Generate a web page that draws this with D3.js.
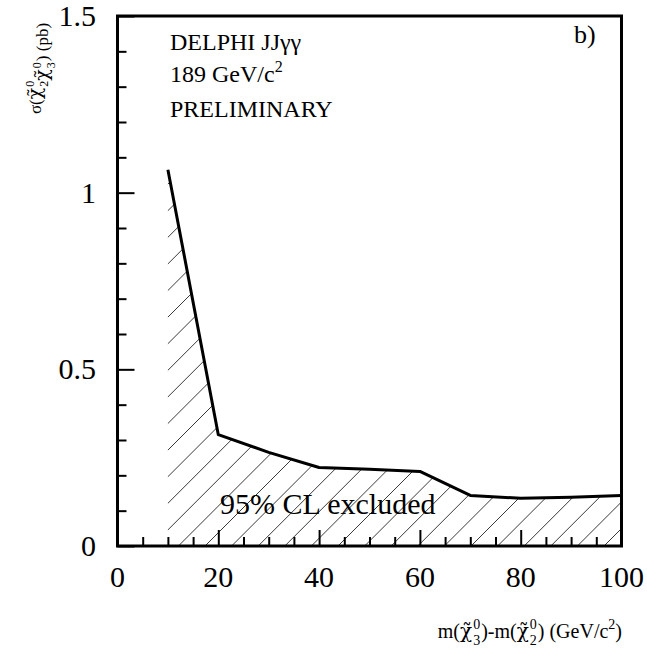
<!DOCTYPE html>
<html>
<head>
<meta charset="utf-8">
<script src="https://cdn.jsdelivr.net/npm/d3@7"></script>
<style>
  body { margin: 0; background: #fff; }
  svg { font-family: 'Liberation Serif', 'Times New Roman', serif; }
</style>
</head>
<body>
<svg id="chart" width="647" height="651"></svg>
<script>
// upper limit on cross-section vs mass difference
const massDiff = [10, 20, 30, 40, 50, 60, 70, 80, 90, 100];
const sigmaLimit = [1.065, 0.315, 0.265, 0.222, 0.217, 0.211, 0.143, 0.135, 0.138, 0.143];

const xMajorTicks = [0, 20, 40, 60, 80, 100];
const yMajorTicks = [0, 0.5, 1, 1.5];
const yTickLabels = ['0', '0.5', '1', '1.5'];

const box = { left: 117.5, right: 621.5, top: 16, bottom: 546 };

const svg = d3.select('#chart');

const xScale = d3.scaleLinear().domain([0, 100]).range([box.left, box.right]);
const yScale = d3.scaleLinear().domain([0, 1.5]).range([box.bottom, box.top]);

const pts = massDiff.map((m, i) => ({ m, s: sigmaLimit[i] }));

// excluded area, used as clip for the hatching
const area = d3.area()
  .x(d => xScale(d.m))
  .y0(yScale(0))
  .y1(d => yScale(d.s));

svg.append('clipPath')
  .attr('id', 'excl')
  .append('path')
  .datum(pts)
  .attr('d', area);

const hatch = svg.append('g').attr('clip-path', 'url(#excl)');
const step = 26.6;
const h = box.bottom - box.top;
const xStart = xScale(10) - h;
const phase = 205;
for (let x = phase - Math.ceil((phase - xStart) / step) * step; x < box.right; x += step) {
  hatch.append('line')
    .attr('x1', x).attr('y1', box.bottom)
    .attr('x2', x + h).attr('y2', box.bottom - h)
    .attr('stroke', '#222')
    .attr('stroke-width', 0.9);
}

// limit curve
svg.append('path')
  .datum(pts)
  .attr('d', d3.line().x(d => xScale(d.m)).y(d => yScale(d.s)))
  .attr('fill', 'none')
  .attr('stroke', '#000')
  .attr('stroke-width', 3)
  .attr('stroke-linejoin', 'round');

// ticks (inward)
const xAxis = d3.axisTop(xScale)
  .tickValues(d3.range(0, 101, 5))
  .tickSize(0)
  .tickFormat('');
const gX = svg.append('g')
  .attr('transform', `translate(0,${box.bottom})`)
  .call(xAxis);
gX.select('.domain').remove();
gX.selectAll('.tick line')
  .attr('y2', d => (d % 20 === 0 ? -16 : -9))
  .attr('stroke', '#000')
  .attr('stroke-width', 2);

const yAxis = d3.axisRight(yScale)
  .tickValues(d3.range(0, 16).map(i => i / 10))
  .tickSize(0)
  .tickFormat('');
const gY = svg.append('g')
  .attr('transform', `translate(${box.left},0)`)
  .call(yAxis);
gY.select('.domain').remove();
gY.selectAll('.tick line')
  .attr('x2', d => (Math.round(d * 10) % 5 === 0 ? 17 : 9))
  .attr('stroke', '#000')
  .attr('stroke-width', 2);

// frame
svg.append('rect')
  .attr('x', box.left)
  .attr('y', box.top)
  .attr('width', box.right - box.left)
  .attr('height', box.bottom - box.top)
  .attr('fill', 'none')
  .attr('stroke', '#000')
  .attr('stroke-width', 3);

// tick labels
svg.append('g')
  .selectAll('text')
  .data(xMajorTicks)
  .join('text')
  .attr('x', d => xScale(d))
  .attr('y', 586.5)
  .attr('text-anchor', 'middle')
  .attr('font-size', 30)
  .text(d => d);

svg.append('g')
  .selectAll('text')
  .data(yMajorTicks)
  .join('text')
  .attr('x', 96)
  .attr('y', d => yScale(d) + 10)
  .attr('text-anchor', 'end')
  .attr('font-size', 30)
  .text((d, i) => yTickLabels[i]);

// chi-tilde with stacked super/subscript
const addChi = (t, size, supSize, up, down, sup, sub) => {
  t.append('tspan')
    .attr('font-family', 'DejaVu Serif')
    .attr('font-size', size)
    .text('χ\u0303');
  t.append('tspan').attr('font-size', supSize).attr('dx', 1).attr('dy', -up).text(sup);
  t.append('tspan').attr('font-size', supSize).attr('dx', -supSize * 0.5).attr('dy', up + down).text(sub);
  return -down;
};

// axis titles
const yTitle = svg.append('text')
  .attr('transform', 'translate(41,68.5) rotate(-90)')
  .attr('text-anchor', 'middle')
  .attr('font-size', 17);
yTitle.append('tspan').text('σ(');
let back = addChi(yTitle, 19, 12, 7, 7, '0', '2');
yTitle.append('tspan').attr('dx', 1).attr('dy', back).text('');
back = addChi(yTitle, 19, 12, 7, 7, '0', '3');
yTitle.append('tspan').attr('dx', 1).attr('dy', back).text(') (pb)');

const xTitle = svg.append('text')
  .attr('x', 622)
  .attr('y', 638)
  .attr('text-anchor', 'end')
  .attr('font-size', 20);
xTitle.append('tspan').text('m(');
back = addChi(xTitle, 20, 14, 9, 7, '0', '3');
xTitle.append('tspan').attr('dx', 1).attr('dy', back).text(')-m(');
back = addChi(xTitle, 20, 14, 9, 7, '0', '2');
xTitle.append('tspan').attr('dx', 1).attr('dy', back).text(') (GeV/c');
xTitle.append('tspan').attr('font-size', 14).attr('dy', -9).text('2');
xTitle.append('tspan').attr('dy', 9).text(')');

// annotations
const notes = svg.append('g').attr('font-size', 24);
notes.append('text').attr('x', 170).attr('y', 50).text('DELPHI JJγγ');
const energy = notes.append('text').attr('x', 170).attr('y', 82);
energy.append('tspan').text('189 GeV/c');
energy.append('tspan').attr('font-size', 16).attr('dy', -10).text('2');
notes.append('text').attr('x', 170).attr('y', 117).text('PRELIMINARY');

svg.append('text')
  .attr('x', 574)
  .attr('y', 43)
  .attr('font-size', 26)
  .text('b)');

svg.append('text')
  .attr('x', 220)
  .attr('y', 514)
  .attr('font-size', 30)
  .text('95% CL excluded');
</script>
</body>
</html>
